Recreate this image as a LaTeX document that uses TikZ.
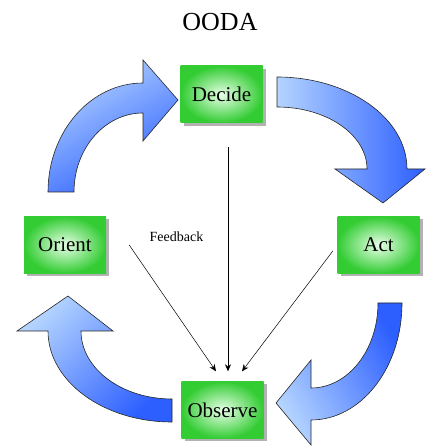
\documentclass[tikz,border=0pt]{standalone}
\usepackage{fontspec}
\setmainfont{Liberation Serif}
\usetikzlibrary{arrows.meta,shadows}
\definecolor{arrowlight}{RGB}{180,212,255}
\definecolor{arrowdark}{RGB}{45,95,255}
\definecolor{boxgreen}{RGB}{51,204,51}
\definecolor{boxlight}{RGB}{232,255,232}

\begin{document}
\begin{tikzpicture}[x=1pt, y=1pt,
  stage/.style={minimum width=82pt, minimum height=57pt, inner sep=0pt,
    inner color=boxlight, outer color=boxgreen,
    drop shadow={shadow xshift=3pt, shadow yshift=-3pt, fill=black!30, opacity=1},
    font=\fontsize{21}{21}\selectfont},
  bigarrow/.style={draw=black!85, line width=0.6pt},
  fb/.style={-{Stealth[length=7pt,width=6pt]}, line width=0.5pt}]
  \useasboundingbox (0, 0) rectangle (427, 447);
  \node [anchor=base] (title) at (220, 416) {\fontsize{26}{26}\selectfont OODA};

  % the four stages
  \node [stage] (decide) at (221.5, 352.5) {Decide};
  \node [stage] (act) at (378.5, 202) {Act};
  \node [stage] (orient) at (65, 202) {Orient};
  \node [stage] (observe) at (222.5, 37) {Observe};

  % curved block arrows
  \shade [bigarrow, top color=arrowlight, bottom color=arrowdark, shading angle=30]
    (48, 255) arc [start angle=180, end angle=90, x radius=95, y radius=109]
    -- (143, 387) -- (178, 347) -- (143, 306) -- (143, 334)
    arc [start angle=90, end angle=180, x radius=69, y radius=79] -- cycle;
  \shade [bigarrow, top color=arrowlight, bottom color=arrowdark, shading angle=90]
    (277, 370) arc [start angle=90, end angle=0, x radius=130, y radius=92]
    -- (425, 278) -- (383, 244) -- (335, 278) -- (367, 278)
    arc [start angle=0, end angle=90, x radius=90, y radius=62] -- cycle;
  \shade [bigarrow, top color=arrowlight, bottom color=arrowdark, shading angle=120]
    (402, 144) arc [start angle=0, end angle=-90, x radius=91, y radius=117]
    -- (311, 2) -- (276, 44) -- (311, 87) -- (311, 59)
    arc [start angle=-90, end angle=0, x radius=67, y radius=85] -- cycle;
  \shade [bigarrow, top color=arrowlight, bottom color=arrowdark, shading angle=45]
    (172, 25) arc [start angle=-90, end angle=-180, x radius=124, y radius=91]
    -- (17, 116) -- (68, 151) -- (113, 116) -- (81, 116)
    arc [start angle=180, end angle=270, x radius=91, y radius=68] -- cycle;

  % feedback lines
  \node (fblabel) at (176.5, 210) {\fontsize{14}{14}\selectfont Feedback};
  \draw [fb] ([xshift=6.5pt, yshift=-24pt]decide.south) -- ([xshift=5.5pt, yshift=10pt]observe.north);
  \draw [fb] ([xshift=23pt]orient.east) -- ([xshift=-6.5pt, yshift=10pt]observe.north);
  \draw [fb] ([xshift=-4.5pt, yshift=-6pt]act.west) -- ([xshift=19.5pt, yshift=10pt]observe.north);
\end{tikzpicture}
\end{document}
